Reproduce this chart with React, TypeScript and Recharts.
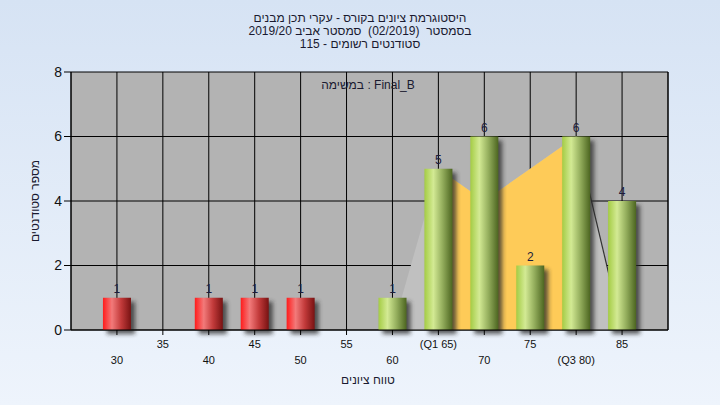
import React from "react";
import {
  ComposedChart,
  Bar,
  Area,
  XAxis,
  YAxis,
  CartesianGrid,
  LabelList,
} from "recharts";

// grade histogram
const SCORES = [30, 35, 40, 45, 50, 55, 60, 65, 70, 75, 80, 85];
const COUNTS = [1, 0, 1, 1, 1, 0, 1, 5, 6, 2, 6, 4];
const X_LABELS = ["30", "35", "40", "45", "50", "55", "60", "(Q1 65)", "70", "75", "(Q3 80)", "85"];
// background shapes behind the bars
const SPREAD = [null, null, null, null, null, null, 0, 5, 4, 5, 6, 0];
const IQR_BAND = [null, null, null, null, null, null, null, 5, 4, 5, 6, null];
const TAIL = [null, null, null, null, null, null, null, null, null, null, 6, 0];
const Y_TICKS = [0, 2, 4, 6, 8];
const FAIL_BELOW = 55;

const TITLE_LINES = [
  "היסטוגרמת ציונים בקורס - עקרי תכן מבנים",
  "בסמסטר  (02/2019)  סמסטר אביב 2019/20",
  "סטודנטים רשומים - 115",
];

const data = SCORES.map((s, i) => ({
  score: s,
  count: COUNTS[i],
  spread: SPREAD[i],
  band: IQR_BAND[i],
  tail: TAIL[i],
}));

const FONT = '"Liberation Sans", Arial, sans-serif';

const ShadowBar = (props: any) => {
  const { x, y, width, height, payload } = props;
  if (!height || height <= 0) return null;
  const fill = payload.score < FAIL_BELOW ? "url(#gradRed)" : "url(#gradGreen)";
  return (
    <g>
      <rect x={x + 4} y={y + 4} width={width} height={height} fill="#2a2a2a" opacity={0.75} filter="url(#barBlur)" />
      <rect x={x} y={y} width={width} height={height} fill={fill} />
    </g>
  );
};

const XTick = (props: any) => {
  const { x, y, payload } = props;
  const i = SCORES.indexOf(payload.value);
  const upper = (payload.value / 5) % 2 === 1;
  return (
    <text x={x} y={y + (upper ? 11 : 27)} textAnchor="middle" fontSize={11} fontFamily={FONT} fill="#111">
      {X_LABELS[i]}
    </text>
  );
};

const CountLabel = (props: any) => {
  const { x, y, width, value } = props;
  if (!value) return null;
  return (
    <text x={x + width / 2} y={y - 5} textAnchor="middle" fontSize={12} fontFamily={FONT} fill="#1c1c3c">
      {value}
    </text>
  );
};

const textBox: React.CSSProperties = {
  position: "absolute",
  textAlign: "center",
  fontSize: 12,
  lineHeight: "13px",
  color: "#1a1a30",
  whiteSpace: "pre",
  pointerEvents: "none",
};

export default function App() {
  return (
    <div
      style={{
        position: "absolute",
        left: 0,
        top: 0,
        width: 720,
        height: 405,
        background: "linear-gradient(#d6e3f4, #eef4fc)",
        fontFamily: FONT,
      }}
    >
      <ComposedChart width={720} height={405} data={data} margin={{ top: 72, right: 0, bottom: 0, left: 0 }}>
        <defs>
          <linearGradient id="gradRed" x1="0" y1="0" x2="1" y2="0">
            <stop offset="0%" stopColor="#ff1c1c" />
            <stop offset="32%" stopColor="#f27a7a" />
            <stop offset="65%" stopColor="#c23a3a" />
            <stop offset="100%" stopColor="#781212" />
          </linearGradient>
          <linearGradient id="gradGreen" x1="0" y1="0" x2="1" y2="0">
            <stop offset="0%" stopColor="#a4cc44" />
            <stop offset="32%" stopColor="#d3ea94" />
            <stop offset="65%" stopColor="#93ad5c" />
            <stop offset="100%" stopColor="#4c6520" />
          </linearGradient>
          <filter id="barBlur" x="-50%" y="-50%" width="200%" height="200%">
            <feGaussianBlur stdDeviation="2" />
          </filter>
        </defs>
        <CartesianGrid yAxisId="left" stroke="#000" fill="#b3b3b3" strokeOpacity={1} />
        <XAxis
          dataKey="score"
          type="number"
          domain={[25, 90]}
          ticks={SCORES}
          height={75}
          tickSize={5}
          stroke="#000"
          tick={<XTick />}
          interval={0}
        />
        <YAxis
          yAxisId="left"
          domain={[0, 8]}
          ticks={Y_TICKS}
          width={71}
          tickSize={7}
          tickMargin={2}
          stroke="#000"
          tick={{ fontSize: 14, fill: "#111", fontFamily: FONT }}
        />
        <YAxis
          yAxisId="right"
          orientation="right"
          domain={[0, 8]}
          ticks={Y_TICKS}
          width={52}
          tickSize={7}
          tickMargin={2}
          stroke="#000"
          tick={{ fontSize: 14, fill: "#111", fontFamily: FONT }}
        />
        <Area yAxisId="left" dataKey="spread" type="linear" stroke="none" fill="#c0c0c0" fillOpacity={1} isAnimationActive={false} />
        <Area yAxisId="left" dataKey="band" type="linear" stroke="none" fill="#fecb58" fillOpacity={1} isAnimationActive={false} />
        <Area yAxisId="left" dataKey="tail" type="linear" stroke="#333" strokeWidth={1.2} fill="none" dot={false} isAnimationActive={false} />
        <Bar yAxisId="left" dataKey="count" barSize={28} shape={<ShadowBar />} isAnimationActive={false}>
          <LabelList dataKey="count" content={<CountLabel />} />
        </Bar>
      </ComposedChart>
      <div style={{ ...textBox, left: 60, width: 600, top: 12 }}>
        {TITLE_LINES.map((t, i) => (
          <div key={i}>{t}</div>
        ))}
      </div>
      <div style={{ ...textBox, left: 218, width: 300, top: 79 }}>במשימה : Final_B</div>
      <div style={{ ...textBox, left: 218, width: 300, top: 374 }}>טווח ציונים</div>
      <svg width={720} height={405} style={{ position: "absolute", left: 0, top: 0, pointerEvents: "none" }}>
        <text
          x={35}
          y={201}
          textAnchor="middle"
          fontSize={12}
          fontFamily={FONT}
          fill="#1a1a30"
          transform="rotate(-90 35 201)"
          dy={4}
        >
          מספר סטודנטים
        </text>
      </svg>
    </div>
  );
}
